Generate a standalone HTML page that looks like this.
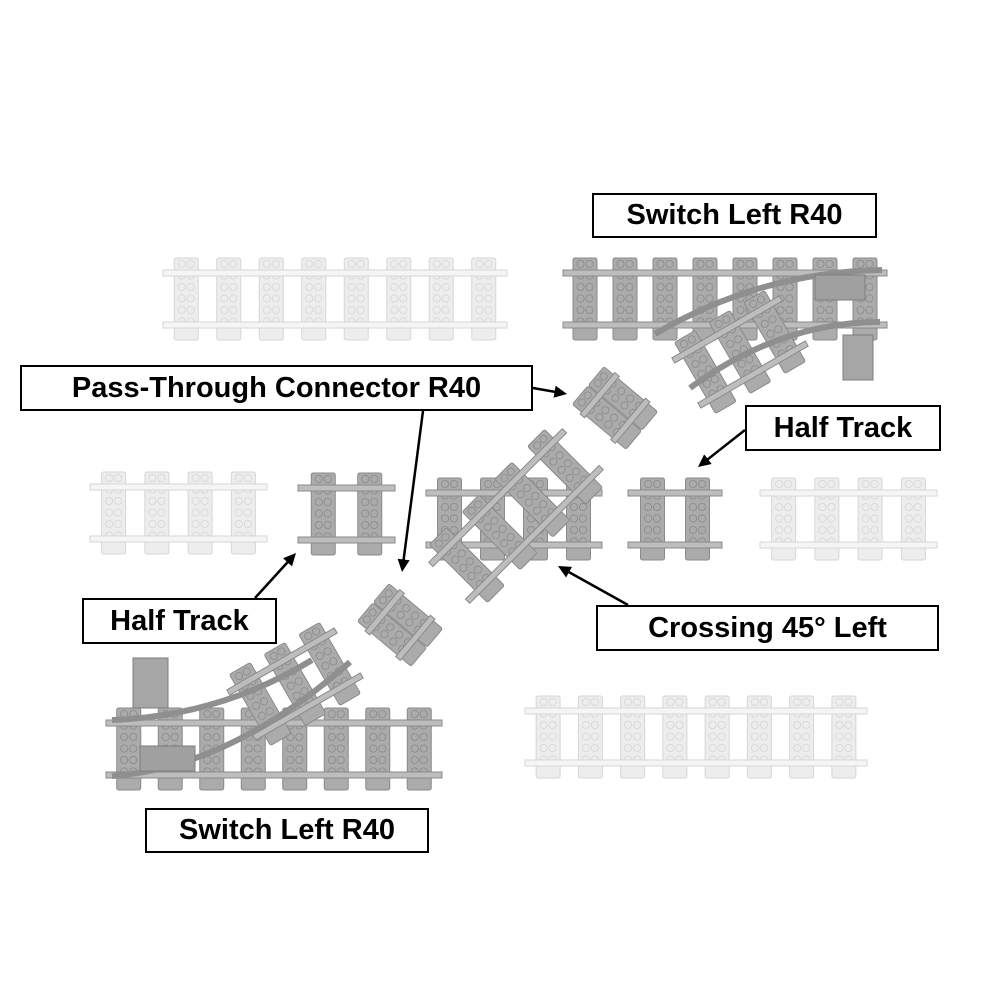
<!DOCTYPE html>
<html><head><meta charset="utf-8"><style>
html,body{margin:0;padding:0;background:#fff;width:1000px;height:1000px;overflow:hidden}
.lb{position:absolute;border:2.5px solid #000;background:#fff;font-family:"Liberation Sans",sans-serif;font-weight:bold;font-size:29px;color:#000;display:flex;align-items:center;justify-content:center;box-sizing:border-box;white-space:nowrap}
svg{position:absolute;left:0;top:0}
</style></head><body>
<svg id="s" width="1000" height="1000" viewBox="0 0 1000 1000"></svg>
<div class="lb" style="left:592px;top:193px;width:285px;height:45px">Switch Left R40</div>
<div class="lb" style="left:20px;top:365px;width:513px;height:46px">Pass-Through Connector R40</div>
<div class="lb" style="left:745px;top:405px;width:196px;height:46px">Half Track</div>
<div class="lb" style="left:82px;top:598px;width:195px;height:46px">Half Track</div>
<div class="lb" style="left:596px;top:605px;width:343px;height:46px">Crossing 45° Left</div>
<div class="lb" style="left:145px;top:808px;width:284px;height:45px">Switch Left R40</div>
<script>
const s=document.getElementById('s');
let out='';
function trackC(cx,cy,L,rot,faded,n,H){
  H=H||82;const f=faded?'#ededed':'#ababab',st=faded?'#d6d6d6':'#8a8a8a',r=faded?'#f5f5f5':'#bdbdbd';
  let g=`<g transform="translate(${cx},${cy}) rotate(${rot||0}) translate(${-L/2},${-H/2})">`;
  n=n||Math.round(L/41);const sp=L/n;
  for(let i=0;i<n;i++){const sx=i*sp+(sp-24)/2;
    g+=`<rect x="${sx}" y="0" width="24" height="${H}" rx="2" fill="${f}" stroke="${st}" stroke-width="1"/>`;
    const m=Math.floor((H-4)/11.5);
    for(let j=0;j<m;j++){const cy2=6+j*11.5;g+=`<circle cx="${sx+7.5}" cy="${cy2}" r="3.6" fill="${f}" stroke="${st}" stroke-width="0.8"/><circle cx="${sx+16.5}" cy="${cy2}" r="3.6" fill="${f}" stroke="${st}" stroke-width="0.8"/>`;}
  }
  g+=`<rect x="-2" y="12" width="${L+4}" height="6" fill="${r}" stroke="${st}" stroke-width="1"/><rect x="-2" y="${H-18}" width="${L+4}" height="6" fill="${r}" stroke="${st}" stroke-width="1"/></g>`;
  out+=g;
}
function track(x,y,L,faded,n){trackC(x+L/2,y+41,L,0,faded,n);}
// faded straights
track(165,258,340,true,8);
track(92,472,173,true,4);
track(762,478,173,true,4);
track(527,696,338,true,8);
// half tracks
track(300,473,93,false,2);
track(630,478,90,false,2);
// switch top right
track(565,258,320,false,8);
trackC(740,352,120,-30,false,3);
out+=`<path d="M655,334 Q760,272 882,270" fill="none" stroke="#8f8f8f" stroke-width="6"/><path d="M690,388 Q780,322 880,322" fill="none" stroke="#8f8f8f" stroke-width="6"/>`;
out+=`<rect x="815" y="275" width="50" height="25" fill="#a0a0a0" stroke="#7e7e7e"/><rect x="843" y="335" width="30" height="45" fill="#a6a6a6" stroke="#7e7e7e"/>`;
// switch bottom left
track(108,708,332,false,8);
trackC(295,684,120,-30,false,3);
out+=`<path d="M112,776 Q230,768 350,662" fill="none" stroke="#8f8f8f" stroke-width="6"/><path d="M112,720 Q220,716 312,660" fill="none" stroke="#8f8f8f" stroke-width="6"/>`;
out+=`<rect x="140" y="746" width="55" height="25" fill="#a0a0a0" stroke="#7e7e7e"/><rect x="133" y="658" width="35" height="50" fill="#a6a6a6" stroke="#7e7e7e"/>`;
// crossing
track(428,478,172,false,4);
trackC(516,516,185,-45,false,4);
// pass-through connectors
trackC(615,408,50,-50,false,2,70);
trackC(400,625,50,-50,false,2,70);
// arrows
function ar(x1,y1,x2,y2){const a=Math.atan2(y2-y1,x2-x1),l=14,w=0.45;
 out+=`<line x1="${x1}" y1="${y1}" x2="${x2-Math.cos(a)*10}" y2="${y2-Math.sin(a)*10}" stroke="#000" stroke-width="2.5"/><polygon points="${x2},${y2} ${x2-l*Math.cos(a-w)},${y2-l*Math.sin(a-w)} ${x2-l*Math.cos(a+w)},${y2-l*Math.sin(a+w)}" fill="#000"/>`;}
ar(533,388,567,394);ar(423,411,402,572);ar(745,430,698,467);ar(255,598,296,553);ar(628,605,558,566);
s.innerHTML=out;
</script>
</body></html>
